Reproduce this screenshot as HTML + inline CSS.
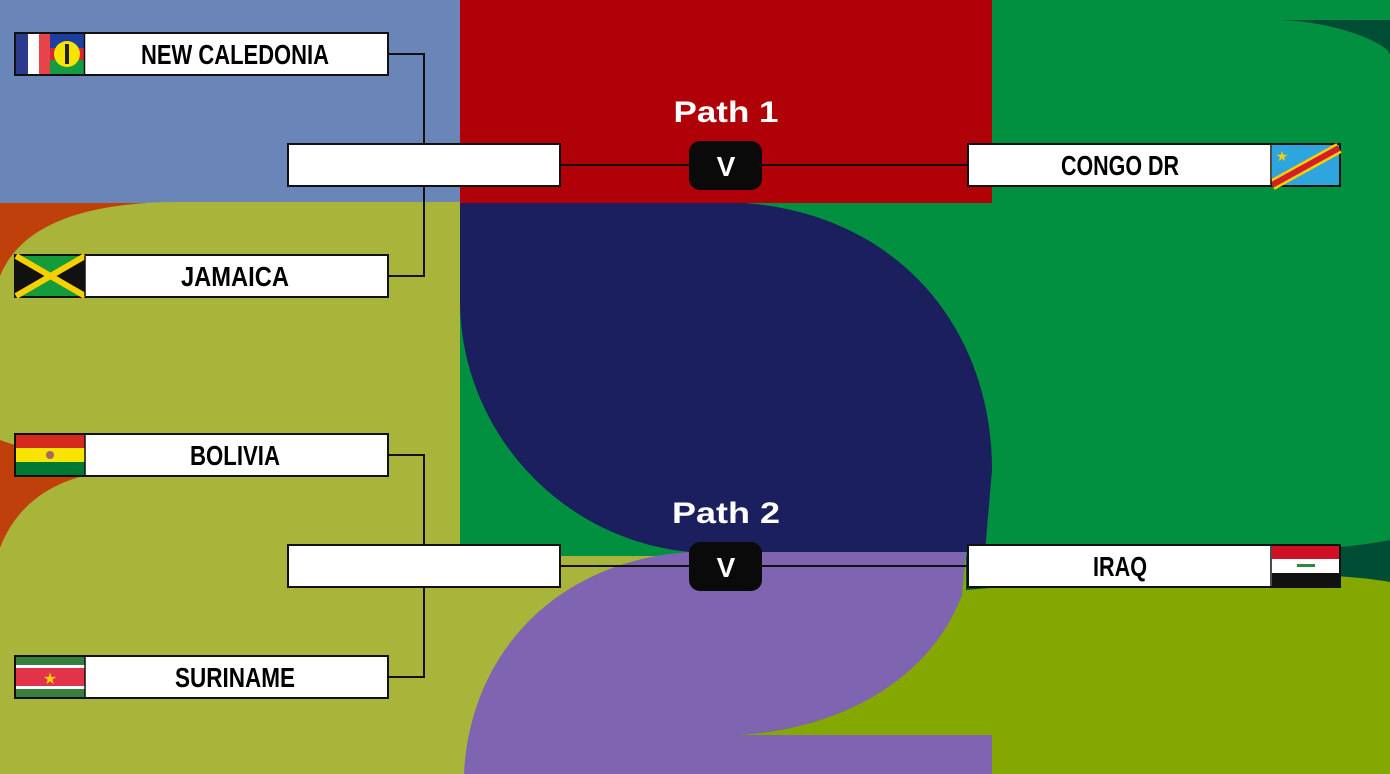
<!DOCTYPE html>
<html><head><meta charset="utf-8"><style>
html,body{margin:0;padding:0;width:1390px;height:774px;overflow:hidden;}
svg{display:block}
.t{font-family:"Liberation Sans",sans-serif;font-weight:bold;font-size:28px;fill:#000;text-anchor:middle}
.p{font-family:"Liberation Sans","DejaVu Sans",sans-serif;font-weight:bold;font-size:30px;fill:#fff;text-anchor:middle}
.v{font-family:"Liberation Sans",sans-serif;font-weight:bold;font-size:28px;fill:#fff;text-anchor:middle}
</style></head><body>
<svg width="1390" height="774" viewBox="0 0 1390 774" xmlns="http://www.w3.org/2000/svg">
<rect x="0" y="0" width="1390" height="774" fill="#004d36"/>
<rect x="0" y="0" width="460" height="203" fill="#6a86b8"/>
<rect x="460" y="0" width="532" height="203" fill="#b00008"/>
<rect x="0" y="203" width="460" height="571" fill="#c0400c"/>
<path d="M0,276 Q30,202 180,202 L460,202 L460,774 L0,774 Z" fill="#a8b43a"/>
<path d="M0,440 L0,548 Q30,470 140,469 Q60,462 0,440 Z" fill="#c0400c"/>
<path d="M0,548 Q30,470 140,469 L460,469 L460,774 L0,774 Z" fill="#a8b43a"/>
<rect x="460" y="460" width="240" height="314" fill="#a8b43a"/>
<path d="M992,0 L1390,0 L1390,20 L1280,20 C1340,22 1390,45 1390,55 L1390,540 C1300,558 1100,556 965,556 L460,556 L460,203 L992,203 Z" fill="#00903f"/>
<path d="M460,203 L745,203 C900,215 992,330 992,470 L985,552 L690,552 C560,540 460,430 460,300 Z" fill="#1b1f5e"/>
<path d="M966,552 L966,590 C1100,578 1300,566 1390,582 L1390,774 L992,774 L992,735 L735,735 C840,730 930,680 962,590 Z" fill="#84a800"/>
<path d="M690,552 L966,552 L962,595 C930,680 840,730 735,735 L992,735 L992,774 L464,774 C470,650 560,560 690,552 Z" fill="#7f64b2"/>

<g stroke="#111" stroke-width="2" fill="none">
<path d="M388,54 H424 V276 H388"/>
<path d="M388,455 H424 V677 H388"/>
<path d="M560,165 H968"/>
<path d="M560,566 H968"/>
</g>

<g stroke="#111" stroke-width="2">
<rect x="15" y="33" width="373" height="42" fill="#fff"/>
<rect x="15" y="255" width="373" height="42" fill="#fff"/>
<rect x="15" y="434" width="373" height="42" fill="#fff"/>
<rect x="15" y="656" width="373" height="42" fill="#fff"/>
<rect x="288" y="144" width="272" height="42" fill="#fff"/>
<rect x="288" y="545" width="272" height="42" fill="#fff"/>
<rect x="968" y="144" width="372" height="42" fill="#fff"/>
<rect x="968" y="545" width="372" height="42" fill="#fff"/>
</g>

<rect x="16" y="34" width="12" height="40" fill="#2a3a8c"/>
<rect x="28" y="34" width="11" height="40" fill="#fff"/>
<rect x="39" y="34" width="11" height="40" fill="#e8424a"/>
<rect x="50" y="34" width="34" height="14" fill="#1c3fa0"/>
<rect x="50" y="48" width="34" height="12" fill="#d8262e"/>
<rect x="50" y="60" width="34" height="14" fill="#169b45"/>
<circle cx="67" cy="54" r="13" fill="#f6e500"/>
<rect x="65" y="44" width="4" height="20" fill="#222"/>
<line x1="84.5" y1="34" x2="84.5" y2="74" stroke="#111" stroke-width="1.5"/>
<rect x="16" y="256" width="69" height="40" fill="#149b3a"/>
<path d="M16,256 L50,276 L16,296 Z" fill="#111"/>
<path d="M85,256 L51,276 L85,296 Z" fill="#111"/>
<path d="M16,256 L85,296 M85,256 L16,296" stroke="#f7d000" stroke-width="6"/>
<line x1="85" y1="256" x2="85" y2="296" stroke="#111" stroke-width="1.5"/>
<rect x="16" y="435" width="69" height="13" fill="#d52b1e"/>
<rect x="16" y="448" width="69" height="14" fill="#f9e300"/>
<rect x="16" y="462" width="69" height="13" fill="#007934"/>
<circle cx="50" cy="455" r="4" fill="#a66" />
<line x1="85" y1="435" x2="85" y2="475" stroke="#111" stroke-width="1.5"/>
<rect x="16" y="657" width="69" height="40" fill="#377e3f"/>
<rect x="16" y="665" width="69" height="24" fill="#fff"/>
<rect x="16" y="668" width="69" height="18" fill="#e3334a"/>
<text x="50" y="684" font-size="16" fill="#f7d000" text-anchor="middle" font-family="DejaVu Sans">★</text>
<line x1="85" y1="657" x2="85" y2="697" stroke="#111" stroke-width="1.5"/>
<rect x="1272" y="145" width="67" height="40" fill="#2fa5e0"/>
<path d="M1272,185 L1339,148" stroke="#f7d000" stroke-width="11"/>
<path d="M1272,185 L1339,148" stroke="#d21f2a" stroke-width="6"/>
<text x="1282" y="161" font-size="14" fill="#f7d000" text-anchor="middle" font-family="DejaVu Sans">★</text>
<line x1="1271" y1="145" x2="1271" y2="185" stroke="#111" stroke-width="1.5"/>
<rect x="1272" y="546" width="67" height="13" fill="#ce1126"/>
<rect x="1272" y="559" width="67" height="14" fill="#fff"/>
<rect x="1272" y="573" width="67" height="13" fill="#111"/>
<rect x="1297" y="564" width="18" height="3" fill="#2a8a3a"/>
<line x1="1271" y1="546" x2="1271" y2="586" stroke="#111" stroke-width="1.5"/>

<text class="t" x="235" y="64" textLength="188" lengthAdjust="spacingAndGlyphs">NEW CALEDONIA</text>
<text class="t" x="235" y="286" textLength="108" lengthAdjust="spacingAndGlyphs">JAMAICA</text>
<text class="t" x="235" y="465" textLength="90" lengthAdjust="spacingAndGlyphs">BOLIVIA</text>
<text class="t" x="235" y="687" textLength="120" lengthAdjust="spacingAndGlyphs">SURINAME</text>
<text class="t" x="1120" y="175" textLength="118" lengthAdjust="spacingAndGlyphs">CONGO DR</text>
<text class="t" x="1120" y="576" textLength="54" lengthAdjust="spacingAndGlyphs">IRAQ</text>

<text class="p" x="726" y="122" textLength="105" lengthAdjust="spacingAndGlyphs">Path 1</text>
<text class="p" x="726" y="523" textLength="108" lengthAdjust="spacingAndGlyphs">Path 2</text>

<rect x="689" y="141" width="73" height="49" rx="11" fill="#0a0a0a"/>
<text class="v" x="726" y="176">V</text>
<rect x="689" y="542" width="73" height="49" rx="11" fill="#0a0a0a"/>
<text class="v" x="726" y="577">V</text>
</svg>
</body></html>
